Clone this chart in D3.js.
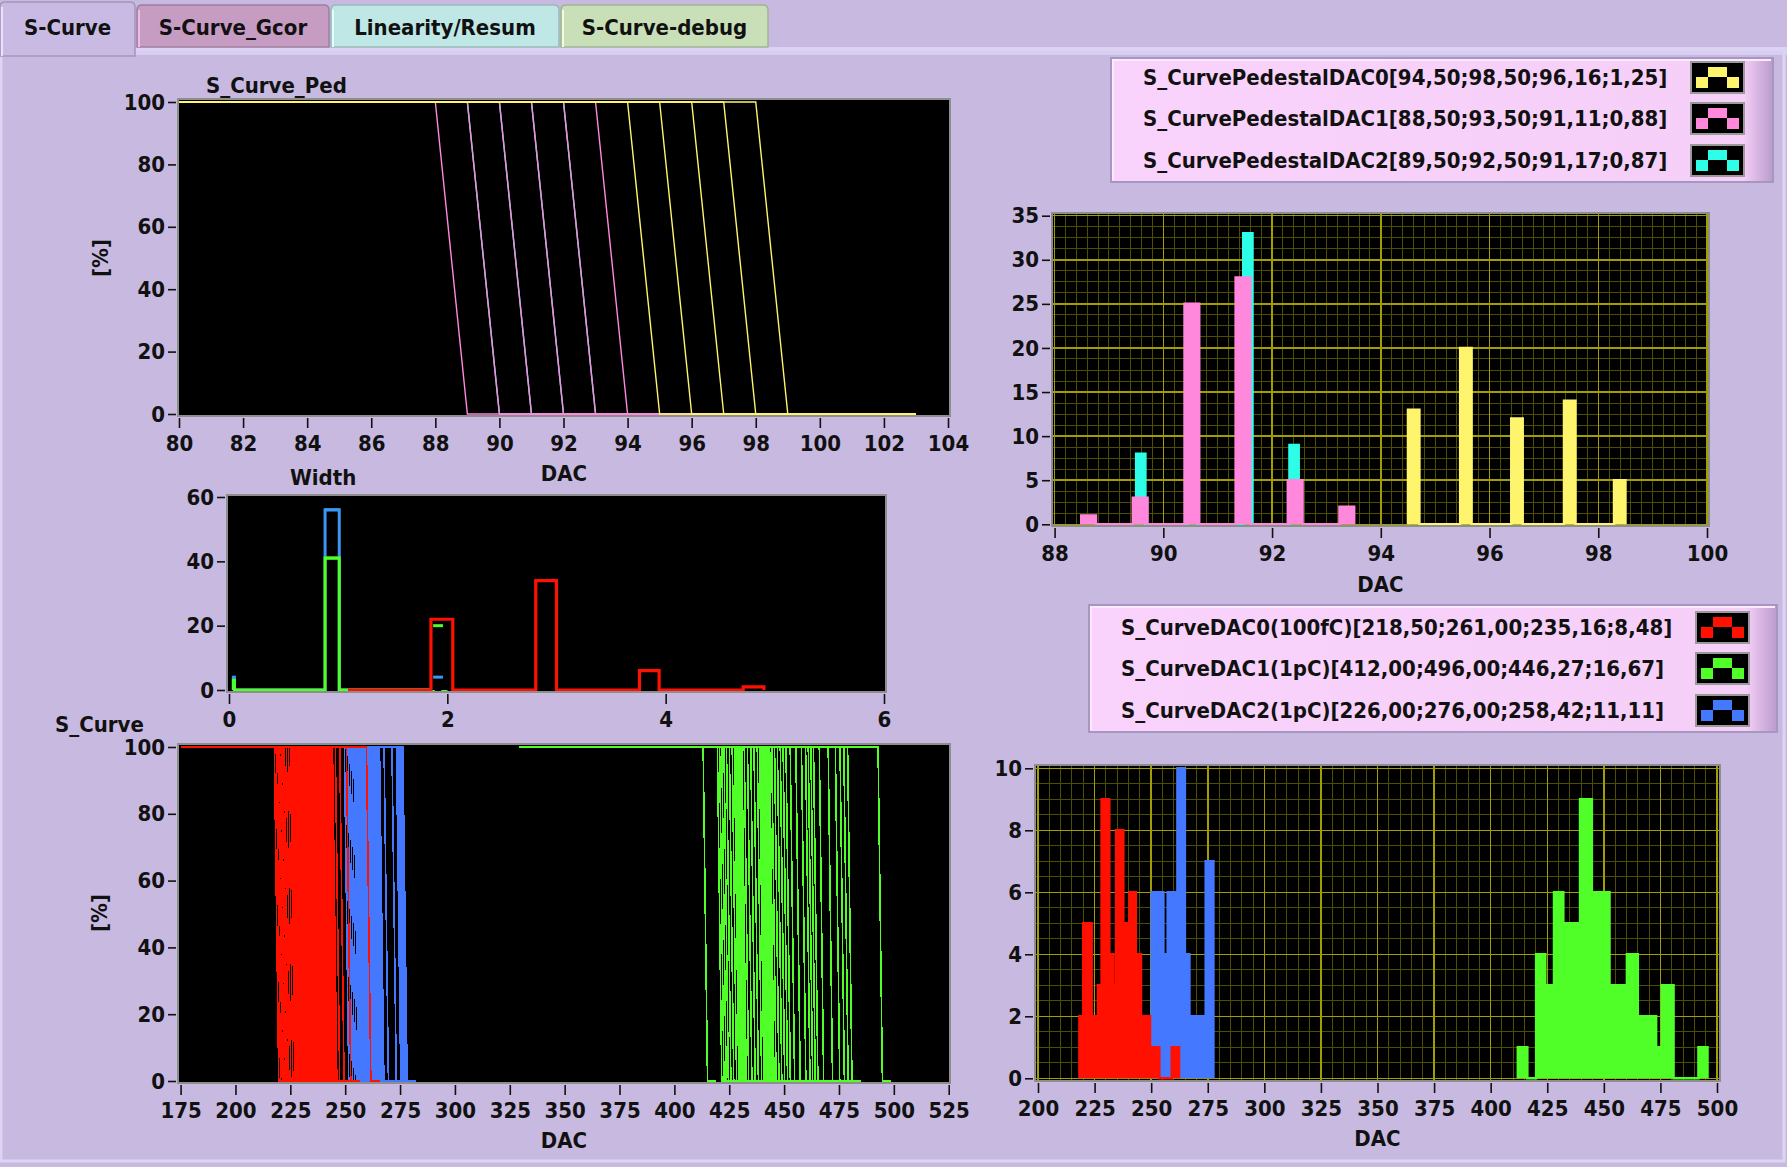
<!DOCTYPE html>
<html>
<head>
<meta charset="utf-8">
<script src="https://cdn.jsdelivr.net/npm/d3@7"></script>
<style>
html, body { margin: 0; padding: 0; background: #c8b9e1; }
svg { display: block; }
</style>
</head>
<body>
<div id="viz"></div>
<script>
// ---------- data ----------
var tabNames = ['S-Curve', 'S-Curve_Gcor', 'Linearity/Resum', 'S-Curve-debug'];

var pedLegend = ['S_CurvePedestalDAC0[94,50;98,50;96,16;1,25]',
                 'S_CurvePedestalDAC1[88,50;93,50;91,11;0,88]',
                 'S_CurvePedestalDAC2[89,50;92,50;91,17;0,87]'];
var dacLegend = ['S_CurveDAC0(100fC)[218,50;261,00;235,16;8,48]',
                 'S_CurveDAC1(1pC)[412,00;496,00;446,27;16,67]',
                 'S_CurveDAC2(1pC)[226,00;276,00;258,42;11,11]'];

// pedestal histogram: left edge of each bar (DAC) + number of channels
var pedDac0X = [94.50, 95.46, 96.40, 97.37, 98.29];
var pedDac0N = [13, 20, 12, 14, 5];
var pedDac1X = [88.49, 89.44, 90.39, 91.33, 92.29, 93.24];
var pedDac1N = [1, 3, 25, 28, 5, 2];
var pedDac2X = [89.50, 90.45, 91.47, 92.32];
var pedDac2N = [8, 14, 33, 9];
var pedBarW = [0.21, 0.27, 0.17];
var pedScan = [80, 103];

// S-curve threshold histogram: bin edges (DAC) + counts
var hDac0Edges = [218.3, 220.0, 223.7, 224.7, 226.5, 228.1, 231.5, 233.3, 234.5, 237.7, 240.4, 243.2, 245.5, 249.5, 253.6, 259.1, 262.3];
var hDac0N = [2, 5, 1, 2, 3, 9, 4, 3, 8, 5, 6, 4, 2, 1, 0, 1];
var hDac1Edges = [412.0, 416.2, 420.1, 424.1, 428.0, 432.1, 439.5, 444.7, 452.5, 460.2, 465.0, 473.1, 475.6, 480.8, 491.8, 495.8];
var hDac1N = [1, 0, 4, 3, 6, 5, 9, 6, 3, 4, 2, 1, 3, 0, 1];
var hDac2Edges = [250.2, 255.4, 257.3, 261.6, 264.9, 266.9, 274.1, 277.5];
var hDac2N = [6, 4, 6, 10, 4, 2, 7];
var scanStart = [175, 329, 175];

// width (sigma) histogram
var wDac0Edges = [1.09, 1.85, 2.05, 2.81, 3.00, 3.76, 3.94, 4.71, 4.90];
var wDac0N = [0, 22, 0, 34, 0, 6, 0, 1];
var wDac1Edges = [0.04, 0.05, 0.88, 1.01, 1.87, 1.96, 2.00];
var wDac1N = [3, 0, 41, 0, 20, 0];
var wDac2Edges = [0.04, 0.05, 0.88, 1.01, 1.87, 1.96, 2.00];
var wDac2N = [4, 0, 56, 0, 4, 0];

// tick labels
var pedCurveXTicks = [80, 82, 84, 86, 88, 90, 92, 94, 96, 98, 100, 102, 104];
var pctTicks = [0, 20, 40, 60, 80, 100];
var widthXTicks = [0, 2, 4, 6];
var widthYTicks = [0, 20, 40, 60];
var dacXTicks = [175, 200, 225, 250, 275, 300, 325, 350, 375, 400, 425, 450, 475, 500, 525];
var pedHistXTicks = [88, 90, 92, 94, 96, 98, 100];
var pedHistYTicks = [0, 5, 10, 15, 20, 25, 30, 35];
var dacHistXTicks = [200, 225, 250, 275, 300, 325, 350, 375, 400, 425, 450, 475, 500];
var dacHistYTicks = [0, 2, 4, 6, 8, 10];

var pedColors = ['#fff56c', '#ff88dd', '#2efde8'];
var dacColors = ['#ff1000', '#50ff28', '#4478ff'];
var widthColors = ['#ff1000', '#50ff28', '#3b97f2'];

// ---------- page ----------
var FONT = "'DejaVu Sans Condensed', 'DejaVu Sans', sans-serif";
var FS = 22;
var BG = '#c8b9e1';

var svg = d3.select('#viz').append('svg')
  .attr('width', 1787).attr('height', 1167)
  .attr('font-family', FONT).attr('font-weight', 'bold');

svg.append('rect').attr('width', 1787).attr('height', 1167).attr('fill', BG);

// tab strip
var tabBoxes = [
  {x0: 0, x1: 135, top: 2, bot: 56, fill: '#c9bae4'},
  {x0: 137, x1: 329, top: 5, bot: 47, fill: '#c69cc3'},
  {x0: 331, x1: 559, top: 5, bot: 47, fill: '#bfe7e5'},
  {x0: 561, x1: 768, top: 5, bot: 47, fill: '#c8dfb8'}
];
svg.append('rect').attr('x', 135).attr('y', 47).attr('width', 1652).attr('height', 8).attr('fill', '#d8cef2');
svg.append('rect').attr('x', 1).attr('y', 49).attr('width', 1783).attr('height', 1112)
  .attr('fill', 'none').attr('stroke', '#ddd3f3').attr('stroke-width', 3);

tabBoxes.forEach(function(t, i) {
  var p = 'M' + t.x0 + ',' + t.bot + 'V' + (t.top + 5) + 'Q' + t.x0 + ',' + t.top + ' ' + (t.x0 + 5) + ',' + t.top +
          'H' + (t.x1 - 5) + 'Q' + t.x1 + ',' + t.top + ' ' + t.x1 + ',' + (t.top + 5) + 'V' + t.bot + 'Z';
  svg.append('path').attr('d', p).attr('fill', t.fill)
    .attr('stroke', d3.color(t.fill).darker(0.6)).attr('stroke-width', 1.5);
  svg.append('line').attr('x1', t.x0 + 2).attr('x2', t.x0 + 2).attr('y1', t.top + 5).attr('y2', t.bot)
    .attr('stroke', d3.color(t.fill).brighter(0.5)).attr('stroke-width', 2);
  svg.append('text').attr('x', (t.x0 + t.x1) / 2).attr('y', 35)
    .attr('text-anchor', 'middle').attr('font-size', FS).attr('fill', '#111')
    .text(tabNames[i]);
});

// ---------- helpers ----------
var clipN = 0;
function plotArea(r, xd, xr, yd, yr) {
  var g = svg.append('g');
  var id = 'clip' + (clipN++);
  g.append('clipPath').attr('id', id).append('rect')
    .attr('x', r[0]).attr('y', r[1]).attr('width', r[2] - r[0]).attr('height', r[3] - r[1]);
  g.append('rect').attr('x', r[0]).attr('y', r[1]).attr('width', r[2] - r[0]).attr('height', r[3] - r[1])
    .attr('fill', '#000');
  var p = {
    g: g, r: r,
    x: d3.scaleLinear().domain(xd).range(xr),
    y: d3.scaleLinear().domain(yd).range(yr)
  };
  p.grid = g.append('g').attr('clip-path', 'url(#' + id + ')').attr('shape-rendering', 'crispEdges');
  p.marks = g.append('g').attr('clip-path', 'url(#' + id + ')');
  return p;
}

function finish(p, xt, yt, xName) {
  var r = p.r;
  p.g.append('rect').attr('x', r[0]).attr('y', r[1]).attr('width', r[2] - r[0]).attr('height', r[3] - r[1])
    .attr('fill', 'none').attr('stroke', '#8e8e8e').attr('stroke-width', 2);

  var ax = p.g.append('g').attr('transform', 'translate(0,' + (r[3] + 2) + ')')
    .call(d3.axisBottom(p.x).tickValues(xt).tickSize(10).tickPadding(7).tickFormat(d3.format('d')));
  var ay = p.g.append('g').attr('transform', 'translate(' + (r[0] - 2) + ',0)')
    .call(d3.axisLeft(p.y).tickValues(yt).tickSize(8).tickPadding(3).tickFormat(d3.format('d')));
  [ax, ay].forEach(function(a) {
    a.select('.domain').remove();
    a.attr('font-family', FONT).attr('font-size', FS).attr('font-weight', 'bold');
    a.selectAll('line').attr('stroke', '#111').attr('stroke-width', 1.6);
    a.selectAll('text').attr('fill', '#111');
  });
  if (xName) {
    p.g.append('text').attr('x', (r[0] + r[2]) / 2).attr('y', xName)
      .attr('text-anchor', 'middle').attr('font-size', FS).attr('fill', '#111').text('DAC');
  }
}

function yName(x, y) {
  svg.append('text').attr('transform', 'translate(' + x + ',' + y + ') rotate(-90)')
    .attr('text-anchor', 'middle').attr('dy', '0.35em')
    .attr('font-size', FS).attr('fill', '#111').text('[%]');
}

function title(x, y, s) {
  svg.append('text').attr('x', x).attr('y', y).attr('font-size', FS).attr('fill', '#111').text(s);
}

function grid(p, xs, ys, color, w) {
  p.grid.selectAll(null).data(xs).enter().append('line')
    .attr('x1', p.x).attr('x2', p.x).attr('y1', p.r[1]).attr('y2', p.r[3])
    .attr('stroke', color).attr('stroke-width', w);
  p.grid.selectAll(null).data(ys).enter().append('line')
    .attr('y1', p.y).attr('y2', p.y).attr('x1', p.r[0]).attr('x2', p.r[2])
    .attr('stroke', color).attr('stroke-width', w);
}

function minorSteps(lo, hi, step, majors) {
  var out = [];
  for (var v = lo; v <= hi + 1e-9; v += step) {
    var vv = +v.toFixed(4);
    if (majors.indexOf(vv) < 0) out.push(vv);
  }
  return out;
}

// step outline for histogram runs: edges has one more entry than counts
function stepPoints(edges, counts) {
  var pts = [[edges[0], 0]];
  counts.forEach(function(c, i) {
    pts.push([edges[i], c]);
    pts.push([edges[i + 1], c]);
  });
  pts.push([edges[edges.length - 1], 0]);
  return pts;
}

// separate bars (left edge + width) -> edges/counts with zero gaps
function barsToRuns(xs, w, ns) {
  var edges = [], counts = [];
  xs.forEach(function(x0, i) {
    edges.push(x0);
    edges.push(x0 + w);
    counts.push(ns[i]);
    if (i < xs.length - 1) counts.push(0);
  });
  return {edges: edges, counts: counts};
}

function lineGen(p) {
  return d3.line().x(function(d) { return p.x(d[0]); }).y(function(d) { return p.y(d[1]); });
}

function legend(b, labels, colors) {
  var g = svg.append('g');
  var gid = 'lg' + (clipN++);
  var grad = g.append('linearGradient').attr('id', gid).attr('x1', 0).attr('x2', 1);
  grad.append('stop').attr('offset', '0').attr('stop-color', '#f9d3fb');
  grad.append('stop').attr('offset', '0.955').attr('stop-color', '#f6cff8');
  grad.append('stop').attr('offset', '1').attr('stop-color', '#b99bcb');
  g.append('rect').attr('x', b.x).attr('y', b.y).attr('width', b.w).attr('height', b.h)
    .attr('fill', 'url(#' + gid + ')').attr('stroke', '#a697c2').attr('stroke-width', 2);
  g.append('path').attr('d', 'M' + (b.x + 2) + ',' + (b.y + b.h - 2) + 'V' + (b.y + 2) + 'H' + (b.x + b.w - 2))
    .attr('fill', 'none').attr('stroke', '#fde9fe').attr('stroke-width', 2);
  labels.forEach(function(s, i) {
    var cy = b.y + b.rows[i];
    g.append('text').attr('x', b.tx).attr('y', cy + 8).attr('font-size', FS).attr('fill', '#111').text(s);
    var sx = b.sx, sy = cy - 15;
    g.append('rect').attr('x', sx).attr('y', sy).attr('width', 53).attr('height', 31)
      .attr('fill', '#000').attr('stroke', '#9a9a9a').attr('stroke-width', 2);
    var icon = 'M' + (sx + 5) + ',' + (sy + 26) + 'V' + (sy + 15) + 'H' + (sx + 17) + 'V' + (sy + 5) +
               'H' + (sx + 36) + 'V' + (sy + 15) + 'H' + (sx + 48) + 'V' + (sy + 26) + 'H' + (sx + 36) +
               'V' + (sy + 15) + 'H' + (sx + 17) + 'V' + (sy + 26) + 'Z';
    g.append('path').attr('d', icon).attr('fill', colors[i]);
  });
}

// ---------- S_Curve_Ped ----------
var p1 = plotArea([178, 99, 950, 416], [80, 104], [179, 948], [0, 100], [414, 102]);
var pedSeries = [
  {xs: pedDac2X, ns: pedDac2N, c: pedColors[2]},
  {xs: pedDac1X, ns: pedDac1N, c: pedColors[1]},
  {xs: pedDac0X, ns: pedDac0N, c: pedColors[0]}
];
pedSeries.forEach(function(s) {
  var steps = s.xs.map(function(x) { return Math.floor(x); });
  p1.marks.append('g').selectAll('path').data(steps).enter().append('path')
    .attr('d', function(t) { return lineGen(p1)([[pedScan[0], 100], [t, 100], [t + 1, 0], [pedScan[1], 0]]); })
    .attr('fill', 'none').attr('stroke', s.c).attr('stroke-width', 1.4);
});
finish(p1, pedCurveXTicks, pctTicks, 481);
title(206, 93, 'S_Curve_Ped');
yName(100, 258);

// ---------- Width ----------
var p2 = plotArea([227, 495, 886, 692], [0, 6], [229, 884], [0, 60], [690, 497]);
var wSeries = [
  {e: wDac2Edges, n: wDac2N, c: widthColors[2]},
  {e: wDac1Edges, n: wDac1N, c: widthColors[1]}
];
wSeries.forEach(function(s) {
  p2.marks.append('path').attr('d', lineGen(p2)(stepPoints(s.e, s.n)))
    .attr('fill', 'none').attr('stroke', s.c).attr('stroke-width', 3);
});
p2.marks.append('path').attr('d', lineGen(p2)(stepPoints(wDac0Edges, wDac0N)))
  .attr('fill', '#000').attr('stroke', widthColors[0]).attr('stroke-width', 3.2);
// tops of the hidden bins stay visible above the red bars
wSeries.forEach(function(s) {
  var tops = s.n.map(function(c, i) { return {c: c, a: s.e[i], b: s.e[i + 1]}; })
    .filter(function(d) { return d.c > 0; });
  p2.marks.selectAll(null).data(tops).enter().append('line')
    .attr('x1', function(d) { return p2.x(d.a); }).attr('x2', function(d) { return p2.x(d.b); })
    .attr('y1', function(d) { return p2.y(d.c); }).attr('y2', function(d) { return p2.y(d.c); })
    .attr('stroke', s.c).attr('stroke-width', 3);
});
finish(p2, widthXTicks, widthYTicks, null);
title(290, 485, 'Width');

// ---------- S_Curve ----------
var p3 = plotArea([178, 744, 950, 1083], [175, 525], [180.6, 948.7], [0, 100], [1081, 747]);
var sSeries = [
  {e: hDac2Edges, n: hDac2N, c: dacColors[2], s0: scanStart[2]},
  {e: hDac1Edges, n: hDac1N, c: dacColors[1], s0: scanStart[1]},
  {e: hDac0Edges, n: hDac0N, c: dacColors[0], s0: scanStart[0]}
];
sSeries.forEach(function(s) {
  // one S-curve per channel, thresholds spread across the bin they fall into
  var th = [];
  s.n.forEach(function(c, i) {
    for (var k = 0; k < c; k++) th.push(s.e[i] + (k + 0.5) * (s.e[i + 1] - s.e[i]) / c);
  });
  p3.marks.append('g').attr('shape-rendering', 'crispEdges')
    .selectAll('path').data(th).enter().append('path')
    .attr('d', function(t) { return lineGen(p3)([[s.s0, 100], [t - 1, 100], [t + 1, 0], [t + 5, 0]]); })
    .attr('fill', 'none').attr('stroke', s.c).attr('stroke-width', 1.6);
});
finish(p3, dacXTicks, pctTicks, 1148);
title(55, 732, 'S_Curve');
yName(99, 913);

// ---------- pedestal histogram ----------
var p4 = plotArea([1052, 213, 1709, 526], [88, 100], [1054.6, 1707], [0, 35], [524.3, 215.7]);
grid(p4, minorSteps(88, 100, 0.2, pedHistXTicks), minorSteps(0, 35, 1.25, pedHistYTicks), '#4f4e00', 1);
grid(p4, pedHistXTicks, pedHistYTicks, '#a09e00', 1.5);
[{xs: pedDac2X, ns: pedDac2N, w: pedBarW[2], c: pedColors[2]},
 {xs: pedDac1X, ns: pedDac1N, w: pedBarW[1], c: pedColors[1]},
 {xs: pedDac0X, ns: pedDac0N, w: pedBarW[0], c: pedColors[0]}].forEach(function(s) {
  var run = barsToRuns(s.xs, s.w, s.ns);
  p4.marks.append('path').attr('d', lineGen(p4)(stepPoints(run.edges, run.counts)))
    .attr('fill', s.c).attr('stroke', s.c).attr('stroke-width', 2.5);
});
finish(p4, pedHistXTicks, pedHistYTicks, 592);

// ---------- S-curve threshold histogram ----------
var p5 = plotArea([1035, 765, 1720, 1081], [200, 500], [1038, 1717], [0, 10], [1078.3, 768.3]);
grid(p5, minorSteps(200, 500, 5, dacHistXTicks), minorSteps(0, 10, 0.5, dacHistYTicks), '#4f4e00', 1);
grid(p5, dacHistXTicks, dacHistYTicks, '#a09e00', 1.5);
[{e: hDac2Edges, n: hDac2N, c: dacColors[2]},
 {e: hDac1Edges, n: hDac1N, c: dacColors[1]},
 {e: hDac0Edges, n: hDac0N, c: dacColors[0]}].forEach(function(s) {
  p5.marks.append('path').attr('d', lineGen(p5)(stepPoints(s.e, s.n)))
    .attr('fill', s.c).attr('stroke', s.c).attr('stroke-width', 2.5);
});
finish(p5, dacHistXTicks, dacHistYTicks, 1146);

// ---------- legends ----------
legend({x: 1111, y: 58, w: 662, h: 124, tx: 1143, sx: 1691, rows: [19, 60, 102]}, pedLegend, pedColors);
legend({x: 1089, y: 605, w: 688, h: 127, tx: 1121, sx: 1696, rows: [22, 63, 105]}, dacLegend, dacColors);
</script>
</body>
</html>
